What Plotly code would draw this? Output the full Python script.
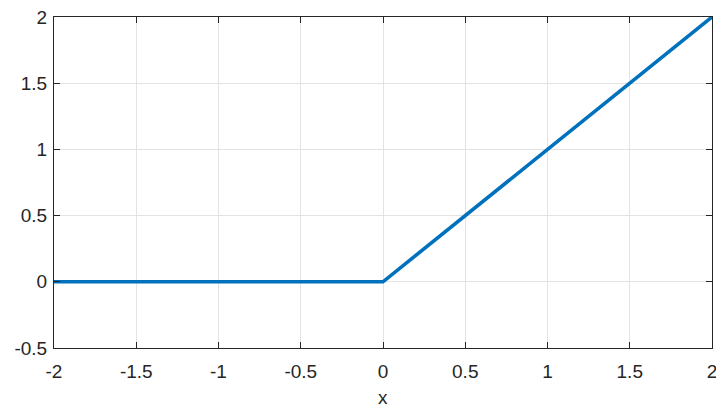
import plotly.graph_objects as go

# ReLU: y = max(0, x) sampled at the breakpoints
x_vals = [-2.0, 0.0, 2.0]
y_vals = [0.0, 0.0, 2.0]

x_ticks = [-2, -1.5, -1, -0.5, 0, 0.5, 1, 1.5, 2]
x_tick_text = ["-2", "-1.5", "-1", "-0.5", "0", "0.5", "1", "1.5", "2"]
y_ticks = [-0.5, 0, 0.5, 1, 1.5, 2]
y_tick_text = ["-0.5", "0", "0.5", "1", "1.5", "2"]
x_label = "x"

axis_color = "#262626"
grid_color = "#e3e3e3"
font = dict(family="Liberation Sans, Arial, Helvetica, sans-serif", size=19, color=axis_color)

fig = go.Figure()
fig.add_trace(go.Scatter(
    x=x_vals, y=y_vals, mode="lines",
    line=dict(color="#0072BD", width=3.6),
    hoverinfo="skip",
))

common_axis = dict(
    showline=True, linecolor=axis_color, linewidth=1, mirror="ticks",
    ticks="inside", ticklen=6, tickwidth=1, tickcolor=axis_color,
    showgrid=True, gridcolor=grid_color, gridwidth=1,
    zeroline=False, tickfont=font, ticklabeloverflow="allow",
    automargin=False,
)

fig.update_xaxes(
    range=[-2, 2], tickvals=x_ticks, ticktext=x_tick_text,
    ticklabelstandoff=6,
    **common_axis,
)
fig.update_yaxes(
    range=[-0.5, 2], tickvals=y_ticks, ticktext=y_tick_text,
    ticklabelstandoff=2,
    **common_axis,
)

# x-axis label sits low, partly past the bottom edge of the page
fig.add_annotation(
    text=x_label, xref="paper", yref="paper", x=0.5, y=0,
    xanchor="center", yanchor="bottom", yshift=-62,
    showarrow=False, font=font,
)

fig.update_layout(
    width=716, height=405,
    margin=dict(l=54, r=4, t=17, b=57),
    paper_bgcolor="white", plot_bgcolor="white",
    showlegend=False, font=font,
)

fig.write_html("out.html")
